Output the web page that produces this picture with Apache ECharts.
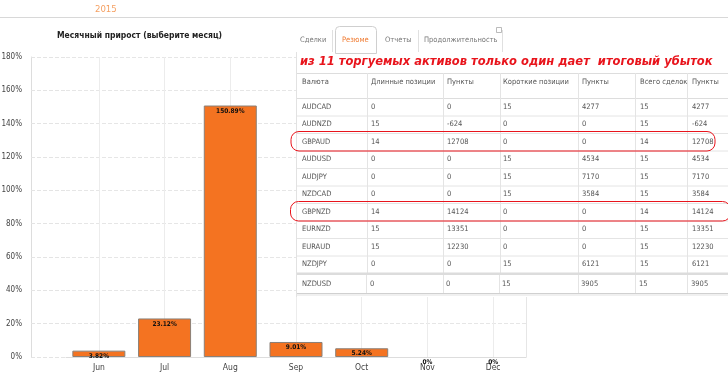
<!DOCTYPE html>
<html><head><meta charset="utf-8">
<script src="https://cdn.jsdelivr.net/npm/echarts@6/dist/echarts.min.js"></script>
<style>html,body{margin:0;padding:0;background:#fff}#c{width:728px;height:378px}</style>
</head><body><div id="c"></div>
<script>
// ---- data ----
const months = ['Jun', 'Jul', 'Aug', 'Sep', 'Oct', 'Nov', 'Dec'];
const growth = [3.82, 23.12, 150.89, 9.01, 5.24, 0, 0];
const yTicks = [0, 20, 40, 60, 80, 100, 120, 140, 160, 180];
const tabs = ['Сделки', 'Резюме', 'Отчеты', 'Продолжительность'];
const tableHeader = ['Валюта', 'Длинные позиции', 'Пункты', 'Короткие позиции', 'Пункты', 'Всего сделок', 'Пункты'];
const pairs = ['AUDCAD', 'AUDNZD', 'GBPAUD', 'AUDUSD', 'AUDJPY', 'NZDCAD', 'GBPNZD', 'EURNZD', 'EURAUD', 'NZDJPY', 'NZDUSD'];
const longPos = [0, 15, 14, 0, 0, 0, 14, 15, 15, 0, 0];
const longPts = [0, -624, 12708, 0, 0, 0, 14124, 13351, 12230, 0, 0];
const shortPos = [15, 0, 0, 15, 15, 15, 0, 0, 0, 15, 15];
const shortPts = [4277, 0, 0, 4534, 7170, 3584, 0, 0, 0, 6121, 3905];
const totalDeals = [15, 15, 14, 15, 15, 15, 14, 15, 15, 15, 15];
const totalPts = [4277, -624, 12708, 4534, 7170, 3584, 14124, 13351, 12230, 6121, 3905];
const highlighted = ['GBPAUD', 'GBPNZD'];
const note = 'из 11 торгуемых активов только один дает  итоговый убыток';
const yearLabel = '2015';
const chartTitle = 'Месячный прирост (выберите месяц)';

// ---- graphic overlay (tabs + table) ----
const F = '"DejaVu Sans Condensed", "DejaVu Sans", sans-serif';
const colX = [302, 371, 447, 503, 582, 640, 692];
const sepX = [367, 443, 500, 578, 635, 687];
const g = [];
g.push({type: 'line', shape: {x1: 0, y1: 17.5, x2: 728, y2: 17.5}, style: {stroke: '#d8d8d8', lineWidth: 1}, z: 100});
g.push({type: 'text', x: 95, y: 5, style: {text: yearLabel, fill: '#f5a062', font: '9.5px ' + F}, z: 100});
// panel
g.push({type: 'rect', shape: {x: 296, y: 22, width: 440, height: 275}, style: {fill: '#fff', stroke: 'none'}, z: 100});
g.push({type: 'line', shape: {x1: 296.5, y1: 52, x2: 296.5, y2: 297}, style: {stroke: '#e2e2e2', lineWidth: 1}, z: 101});
// tabs
const tabX = [300, 342, 385, 424];
g.push({type: 'rect', shape: {x: 335.5, y: 26.5, width: 41, height: 27, r: [4, 4, 0, 0]}, style: {fill: '#fff', stroke: '#cfcfcf', lineWidth: 1}, z: 101});
[332.5, 418.5, 502.5].forEach(x => g.push({type: 'line', shape: {x1: x, y1: 30, x2: x, y2: 52}, style: {stroke: '#e0e0e0'}, z: 101}));
g.push({type: 'rect', shape: {x: 496.5, y: 27.5, width: 5, height: 5}, style: {fill: '#fff', stroke: '#aaa', lineWidth: 0.8}, z: 101});
tabs.forEach((t, i) => g.push({type: 'text', x: tabX[i], y: 40, style: {text: t, fill: i === 1 ? '#f07a30' : '#777', font: '7.5px ' + F, verticalAlign: 'middle'}, z: 102}));
// note
g.push({type: 'text', x: 300, y: 62, style: {text: note, fill: '#e8141c', font: 'italic bold 12.8px "DejaVu Sans Condensed", sans-serif', verticalAlign: 'middle'}, z: 102});
// table frame
const tTop = 73, hBot = 98, rowH = 17.5;
g.push({type: 'line', shape: {x1: 297, y1: tTop + 0.5, x2: 728, y2: tTop + 0.5}, style: {stroke: '#ddd'}, z: 101});
g.push({type: 'line', shape: {x1: 297, y1: hBot + 0.5, x2: 728, y2: hBot + 0.5}, style: {stroke: '#ddd'}, z: 101});
tableHeader.forEach((t, i) => g.push({type: 'text', x: colX[i], y: 82, style: {text: t, fill: '#555', font: '7.5px ' + F, verticalAlign: 'middle'}, z: 102}));
sepX.forEach(x => g.push({type: 'line', shape: {x1: x + 0.5, y1: tTop, x2: x + 0.5, y2: 273}, style: {stroke: '#e4e4e4'}, z: 101}));
const lastSep = [366, 443, 499, 578, 635, 687];
lastSep.forEach(x => g.push({type: 'line', shape: {x1: x + 0.5, y1: 275, x2: x + 0.5, y2: 293}, style: {stroke: '#e4e4e4'}, z: 101}));
pairs.forEach((p, r) => {
  const isLast = r === pairs.length - 1;
  const top = isLast ? 275 : hBot + r * rowH;
  const cy = top + rowH / 2 + (isLast ? 0.5 : 0);
  const vals = [p, longPos[r], longPts[r], shortPos[r], shortPts[r], totalDeals[r], totalPts[r]];
  vals.forEach((v, i) => g.push({type: 'text', x: colX[i] - (isLast && i > 0 ? 1 : 0), y: cy, style: {text: String(v), fill: '#555', font: '7.5px ' + F, verticalAlign: 'middle'}, z: 102}));
  if (!isLast) g.push({type: 'line', shape: {x1: 297, y1: top + rowH + 0.5, x2: 728, y2: top + rowH + 0.5}, style: {stroke: '#e4e4e4'}, z: 101});
  if (highlighted.includes(p)) {
    g.push({type: 'rect', shape: {x: 290.5 + (r === 2 ? 0.5 : 0), y: top - 1.5, width: r === 2 ? 424 : 440, height: rowH + 2, r: 8}, style: {fill: 'none', stroke: '#e8141c', lineWidth: 1}, z: 103});
  }
});
g.push({type: 'rect', shape: {x: 297, y: 272.5, width: 431, height: 2.5}, style: {fill: '#dcdcdc'}, z: 101});
g.push({type: 'line', shape: {x1: 297, y1: 293.5, x2: 728, y2: 293.5}, style: {stroke: '#d0d0d0'}, z: 101});
g.push({type: 'rect', shape: {x: 297, y: 294, width: 431, height: 2}, style: {fill: '#f0f0f0'}, z: 101});

const chart = echarts.init(document.getElementById('c'));
chart.setOption({
  animation: false,
  title: {text: chartTitle, left: 52, top: 26, textStyle: {fontFamily: F, fontSize: 8.5, fontWeight: 'bold', color: '#222'}},
  grid: {left: 66, right: 202, top: 57, bottom: 21, outerBoundsMode: 'none', containLabel: false},
  xAxis: {
    type: 'category', data: months,
    axisLine: {lineStyle: {color: '#ddd'}},
    axisTick: {show: false},
    axisLabel: {color: '#444', fontSize: 8.5, fontFamily: F, margin: 6},
    splitLine: {show: true, alignWithLabel: true, lineStyle: {color: '#ececec'}}
  },
  yAxis: [{
    type: 'value', min: 0, max: 180, interval: 20, offset: 35,
    axisLine: {show: true, lineStyle: {color: '#ddd'}},
    axisTick: {show: true, inside: true, length: 35, lineStyle: {color: '#e4e4e4', type: 'dashed'}},
    axisLabel: {formatter: v => yTicks.includes(v) ? v + '%' : '', color: '#444', fontSize: 8, fontFamily: F, margin: 9},
    splitLine: {lineStyle: {color: '#e6e6e6', type: 'dashed'}}
  }, {
    type: 'value', min: 0, max: 180, interval: 20, position: 'right',
    axisLine: {show: true, lineStyle: {color: '#e6e6e6'}},
    axisTick: {show: false}, axisLabel: {show: false}, splitLine: {show: false}
  }],
  series: [{
    type: 'bar', barWidth: 53,
    data: growth.map(v => ({value: v, itemStyle: v === 0 ? {borderWidth: 0} : {}})),
    itemStyle: {color: '#f47321', borderColor: '#8a8078', borderWidth: 1},
    label: {show: true, position: 'insideTop', distance: 2, formatter: p => (p.value === 0 ? '0' : p.value.toFixed(2)) + '%', fontSize: 6.5, fontWeight: 'bold', color: '#111', fontFamily: F}
  }],
  graphic: {elements: g}
});
</script></body></html>
